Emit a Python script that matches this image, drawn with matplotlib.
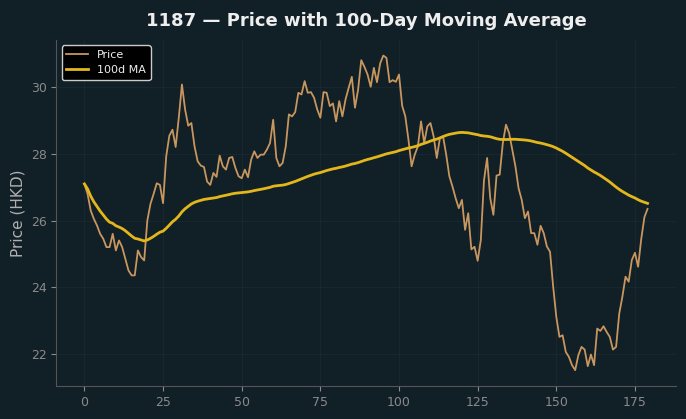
import numpy as np
import pandas as pd
import matplotlib
matplotlib.use("Agg")
import matplotlib.pyplot as plt

# daily closing prices (day 0..179)
price = [
    27.10, 26.80, 26.30, 26.05, 25.85, 25.60, 25.45, 25.20, 25.20, 25.60,
    25.10, 25.40, 25.20, 24.85, 24.50, 24.35, 24.35, 25.10, 24.90, 24.80,
    26.00, 26.50, 26.80, 27.12, 27.07, 26.52, 27.93, 28.55, 28.73, 28.21,
    29.09, 30.09, 29.34, 28.85, 28.93, 28.23, 27.78, 27.65, 27.61, 27.17,
    27.07, 27.43, 27.31, 27.95, 27.63, 27.53, 27.88, 27.91, 27.58, 27.33,
    27.27, 27.53, 27.30, 27.83, 28.08, 27.88, 27.98, 27.98, 28.13, 28.33,
    29.03, 27.88, 27.63, 27.73, 28.23, 29.19, 29.13, 29.26, 29.84, 29.79,
    30.19, 29.84, 29.86, 29.69, 29.34, 29.09, 29.86, 29.84, 29.44, 29.52,
    28.98, 29.59, 29.13, 29.64, 29.99, 30.32, 29.39, 29.94, 30.82, 30.62,
    30.39, 30.02, 30.59, 30.16, 30.72, 30.96, 30.89, 30.16, 30.22, 30.17,
    30.39, 29.45, 29.13, 28.43, 27.63, 27.98, 28.23, 28.98, 28.33, 28.83,
    28.93, 28.53, 27.88, 28.48, 28.53, 27.98, 27.33, 27.02, 26.67, 26.37,
    26.62, 25.72, 26.22, 25.13, 25.21, 24.79, 25.41, 27.20, 27.88, 26.67,
    26.17, 27.35, 27.38, 28.33, 28.88, 28.63, 28.13, 27.63, 26.97, 26.62,
    26.07, 26.27, 25.62, 25.62, 25.27, 25.84, 25.62, 25.22, 25.06, 24.01,
    23.10, 22.50, 22.55, 22.05, 21.90, 21.65, 21.50, 21.95, 22.20, 22.12,
    21.62, 21.97, 21.65, 22.75, 22.68, 22.82, 22.65, 22.50, 22.12, 22.20,
    23.20, 23.71, 24.31, 24.16, 24.81, 25.03, 24.61, 25.45, 26.10, 26.35,
]
days = np.arange(len(price))

ticker = "1187"
window = 100

s = pd.Series(price, index=days)
ma = s.rolling(window, min_periods=1).mean()

bg = "#111f26"
fig, ax = plt.subplots(figsize=(6.86, 4.19), dpi=100)
fig.patch.set_facecolor(bg)
ax.set_facecolor(bg)
fig.subplots_adjust(left=0.082, right=0.985, top=0.905, bottom=0.079)

ax.plot(days, s.values, color="#c8965f", linewidth=1.3, label="Price")
ax.plot(days, ma.values, color="#e3b71b", linewidth=2, label="100d MA")

ax.set_title(f"{ticker} — Price with {window}-Day Moving Average",
             color="#eeeeee", fontsize=13, fontweight="bold", pad=10)
ax.set_ylabel("Price (HKD)", color="#b0b0b0", fontsize=11)

ax.tick_params(colors="#8a8a8a", labelsize=9)
for side in ["top", "right"]:
    ax.spines[side].set_visible(False)
for side in ["left", "bottom"]:
    ax.spines[side].set_color("#555555")
ax.grid(True, color="#2a3a40", alpha=0.35, linewidth=0.6)

leg = ax.legend(loc="upper left", fontsize=8, facecolor="#000000",
                edgecolor="#cccccc", framealpha=1)
for t in leg.get_texts():
    t.set_color("#eeeeee")

fig.savefig("out.png", facecolor=bg)
